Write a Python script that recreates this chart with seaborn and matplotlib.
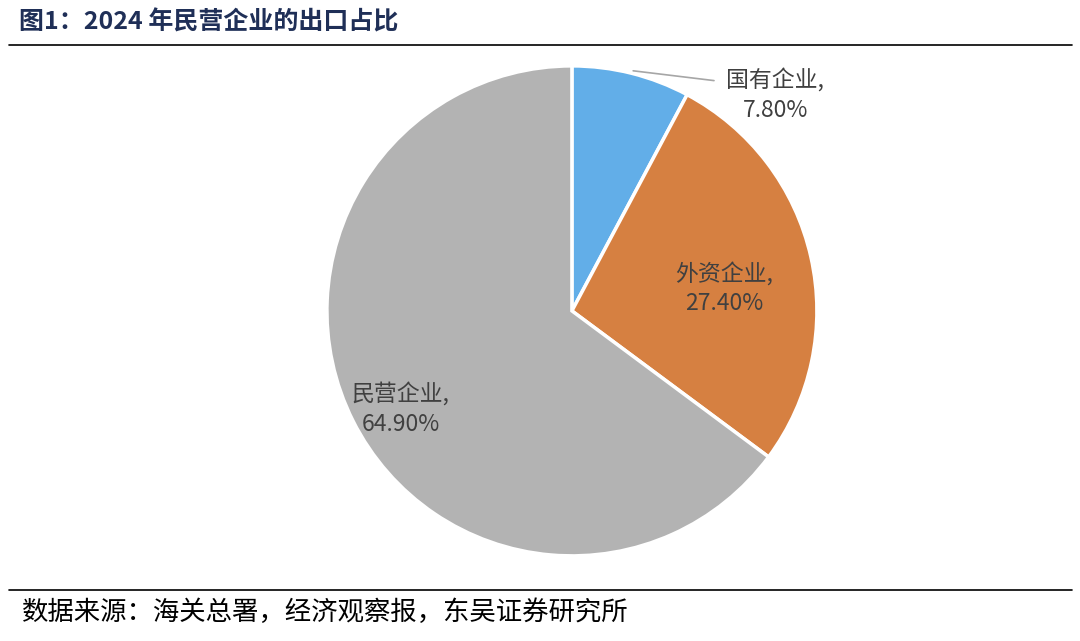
import matplotlib
matplotlib.use("Agg")
import matplotlib.pyplot as plt
import seaborn as sns
import numpy as np

sns.set_theme(style="white")
plt.rcParams['font.family'] = ['Noto Sans CJK SC', 'DejaVu Sans']

categories = ["国有企业", "外资企业", "民营企业"]
values = [7.80, 27.40, 64.90]
colors = ["#62AEE8", "#D68041", "#B3B3B3"]

fig = plt.figure(figsize=(10.8, 6.41), dpi=100)
ax = fig.add_axes([0.5296 - 0.2269, 0.515 - 0.3822, 0.4537, 0.7644])
wedges, _ = ax.pie(values, colors=colors, startangle=90, counterclock=False,
                   wedgeprops=dict(edgecolor="white", linewidth=2.5))
ax.set_aspect("equal")
ax.set_xlim(-1, 1); ax.set_ylim(-1, 1)

lab_pos = [(0.83, 0.88), (0.62, 0.09), (-0.70, -0.40)]
for c, v, (x, y) in zip(categories, values, lab_pos):
    ax.text(x, y, f"{c},\n{v:.2f}%", ha="center", va="center", fontsize=16.5,
            color="#404040", linespacing=1.35)
ax.plot([0.25, 0.58], [0.98, 0.94], color="#A6A6A6", lw=1.2)

fig.text(0.018, 0.965, "图1：2024 年民营企业的出口占比", fontsize=18, fontweight="bold",
         color="#1F2F57", va="center", ha="left")
fig.add_artist(plt.Line2D([0.008, 0.993], [0.930, 0.930], color="black", lw=1.2))
fig.add_artist(plt.Line2D([0.008, 0.993], [0.079, 0.079], color="black", lw=1.2))
fig.text(0.02, 0.045, "数据来源：海关总署，经济观察报，东吴证券研究所", fontsize=19,
         color="black", va="center", ha="left")

fig.savefig("out.png", dpi=100)
